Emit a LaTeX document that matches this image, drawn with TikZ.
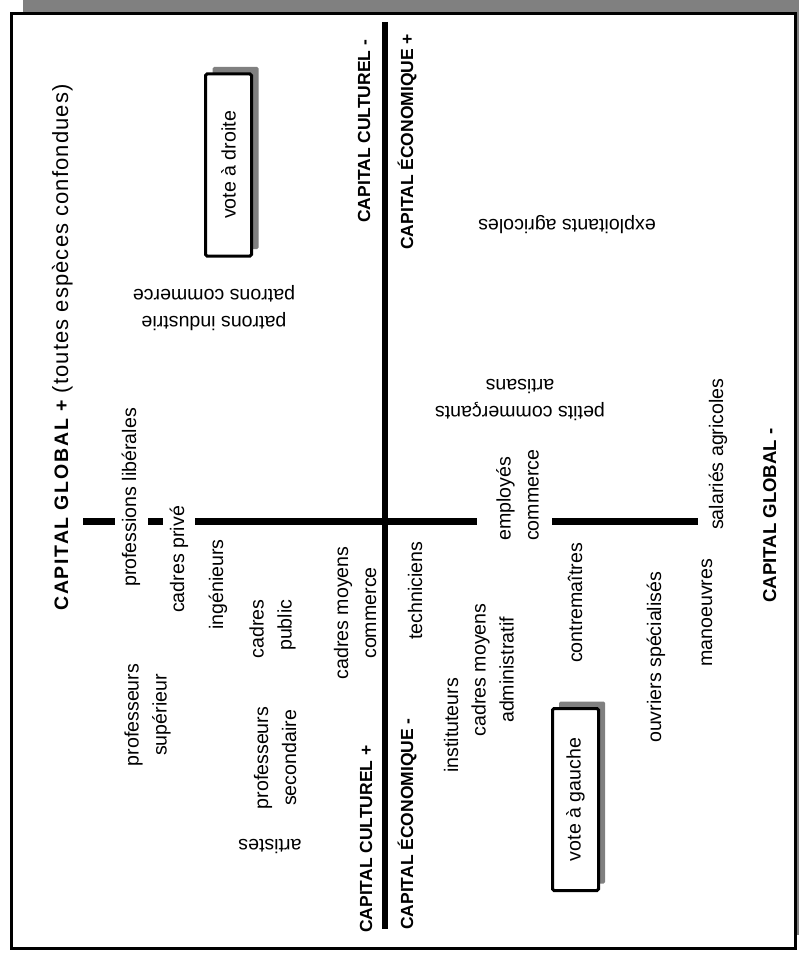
\documentclass[tikz,border=0pt]{standalone}
\usepackage{fontspec}
\setmainfont{Liberation Sans}
\tikzset{every node/.style={inner sep=0pt},
    lab/.style={rotate=90, align=center, font=\fontsize{19.6}{28}\selectfont},
    labinv/.style={rotate=180, align=center, font=\fontsize{19.6}{27}\selectfont},
    caplab/.style={rotate=90, anchor=base west, font=\fontsize{17.5}{21}\selectfont\bfseries},
    axis/.style={line width=6.7pt},
    votebox/.style={draw, line width=3pt, fill=white, rounded corners=1.5pt, rotate=90,
        minimum width=182pt, minimum height=46pt, font=\fontsize{19.6}{28}\selectfont},
    voteshadow/.style={fill=gray, rounded corners=1.5pt, rotate=90,
        minimum width=182pt, minimum height=46pt},
    }
\begin{document}
\begin{tikzpicture}[x=1pt,y=-1pt]
\clip (0,0) rectangle (799,955);
% cadre
\fill[gray] (23,-5) rectangle (810,935);
\draw[line width=3pt, fill=white] (11.5,13.5) rectangle (795,948.5);
% axes
\coordinate (vtop) at (385,22);
\coordinate (vbot) at (385,929);
\draw[axis] (vtop) -- (vbot);
\coordinate (h0) at (83,521.5);
\coordinate (h1) at (115,521.5);
\coordinate (h2) at (148,521.5);
\coordinate (h3) at (163,521.5);
\coordinate (h4) at (195,521.5);
\coordinate (h5) at (477,521.5);
\coordinate (h6) at (552,521.5);
\coordinate (h7) at (698,521.5);
\draw[axis] (h0) -- (h1) (h2) -- (h3) (h4) -- (h5) (h6) -- (h7);
% titres des axes
\node[caplab, font=\fontsize{19.5}{21}\selectfont\bfseries\addfontfeature{LetterSpace=9}] (globplus) at (68,611)
    {CAPITAL GLOBAL + {\mdseries\fontsize{22}{28}\selectfont\addfontfeature{LetterSpace=5}(toutes espèces confondues)}};
\node[caplab, font=\fontsize{18.6}{21}\selectfont\bfseries] (globmoins) at (776,603) {CAPITAL GLOBAL -};
\node[caplab] (cultmoins) at (370,223) {CAPITAL CULTUREL -};
\node[caplab] (ecoplus) at (413,250) {CAPITAL ÉCONOMIQUE +};
\node[caplab] (cultplus) at (372,933) {CAPITAL CULTUREL +};
\node[caplab] (ecomoins) at (413,930) {CAPITAL ÉCONOMIQUE -};
% votes
\node[voteshadow] (droitesh) at (235.5,158) {};
\node[votebox] (droite) at (228.5,165) {vote à droite};
\node[voteshadow] (gauchesh) at (582,792.5) {};
\node[votebox] (gauche) at (575.5,799.5) {vote à gauche};
% professions
\node[labinv] (patrons) at (214,308.5) {patrons industrie\\patrons commerce};
\node[labinv] (petits) at (520,400.5) {petits commerçants\\artisans};
\node[labinv] (exploit) at (567,225) {exploitants agricoles};
\node[labinv] (artistes) at (270,846) {artistes};
\node[lab, anchor=base west] (proflib) at (136,587) {professions libérales};
\node[lab, anchor=base west] (cadprive) at (184,613) {cadres privé};
\node[lab, anchor=base west] (ingen) at (223,630) {ingénieurs};
\node[lab, align=right] (cadpub) at (272.5,629) {cadres\\public};
\node[lab] (profsup) at (147.5,715) {professeurs\\supérieur};
\node[lab] (profsec) at (275,758) {professeurs\\secondaire};
\node[lab] (cadcom) at (355,613) {cadres moyens\\commerce};
\node[lab, anchor=base west] (techn) at (422,640) {techniciens};
\node[lab, anchor=base west] (instit) at (458,773) {instituteurs};
\node[lab] (cadadm) at (492.5,670) {cadres moyens\\administratif};
\node[lab, align=left, anchor=west] (emplcom) at (517.5,541) {employés\\commerce};
\node[lab, anchor=base west] (contrem) at (582,663) {contremaîtres};
\node[lab, anchor=base west] (ouvspe) at (661,743) {ouvriers spécialisés};
\node[lab, anchor=base west] (manoeu) at (712,667) {manoeuvres};
\node[lab, anchor=base west] (salagr) at (723,530) {salariés agricoles};
\end{tikzpicture}
\end{document}
